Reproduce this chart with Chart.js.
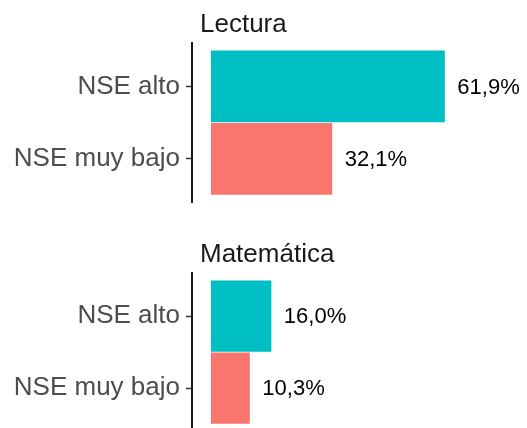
<!DOCTYPE html>
<html>
<head>
<meta charset="utf-8">
<script src="https://cdn.jsdelivr.net/npm/chart.js@4.4.1/dist/chart.umd.min.js"></script>
<style>
  html, body { margin: 0; padding: 0; background: #fff; overflow: hidden; width: 527px; height: 428px; }
  canvas { position: absolute; left: 0; }
  #c1 { top: 0px; }
  #c2 { top: 230px; }
</style>
</head>
<body>
<canvas id="c1" width="527" height="224"></canvas>
<canvas id="c2" width="527" height="223"></canvas>
<script>
const categories = ['NSE alto', 'NSE muy bajo'];
const barColors = ['#00BFC4', '#F8766D'];
const panelTitles = ['Lectura', 'Matemática'];
const lecturaValues = [61.9, 32.1];
const matematicaValues = [16.0, 10.3];

const FONT = "'Liberation Sans', Arial, sans-serif";

const labelPlugin = {
  id: 'panelLabels',
  afterDraw(chart, args, opts) {
    const ctx = chart.ctx;
    const area = chart.chartArea;
    ctx.save();
    // panel title
    ctx.font = '26px ' + FONT;
    ctx.fillStyle = '#1A1A1A';
    ctx.textAlign = 'left';
    ctx.textBaseline = 'alphabetic';
    ctx.fillText(opts.title, area.left + 8, area.top - 11);
    // value labels
    ctx.font = '22px ' + FONT;
    ctx.fillStyle = '#000000';
    ctx.textBaseline = 'middle';
    const meta = chart.getDatasetMeta(0);
    meta.data.forEach((bar, i) => {
      const v = chart.data.datasets[0].data[i].x;
      const txt = v.toFixed(1).replace('.', ',') + '%';
      ctx.fillText(txt, bar.x + 12.5, bar.y + 1);
    });
    ctx.restore();
  }
};

function makeChart(id, values, title) {
  return new Chart(document.getElementById(id), {
    type: 'bar',
    data: {
      datasets: [{
        data: values.map((v, i) => ({ x: v, y: i })),
        backgroundColor: barColors,
        borderWidth: 0,
        barPercentage: 1,
        categoryPercentage: 0.99
      }]
    },
    options: {
      indexAxis: 'y',
      responsive: false,
      animation: false,
      devicePixelRatio: 1,
      layout: { padding: { left: 0, right: 10, top: 43, bottom: 4 } },
      plugins: {
        legend: { display: false },
        tooltip: { enabled: false },
        panelLabels: { title: title }
      },
      scales: {
        x: {
          type: 'linear',
          display: false,
          min: -5,
          max: 81
        },
        y: {
          type: 'linear',
          reverse: true,
          offset: false,
          min: -0.6,
          max: 1.6,
          afterBuildTicks(scale) {
            scale.ticks = categories.map((c, i) => ({ value: i }));
          },
          afterFit(scale) { scale.width = 192; },
          ticks: {
            callback: (v) => categories[v] ?? '',
            font: { family: FONT, size: 26 },
            color: '#4D4D4D',
            padding: 6,
            autoSkip: false
          },
          grid: {
            display: true,
            offset: false,
            drawOnChartArea: false,
            drawTicks: true,
            tickLength: 6,
            tickColor: '#333333',
            tickWidth: 1.5
          },
          border: { display: true, color: '#1A1A1A', width: 2 }
        }
      }
    },
    plugins: [labelPlugin]
  });
}

makeChart('c1', lecturaValues, panelTitles[0]);
makeChart('c2', matematicaValues, panelTitles[1]);
</script>
</body>
</html>
